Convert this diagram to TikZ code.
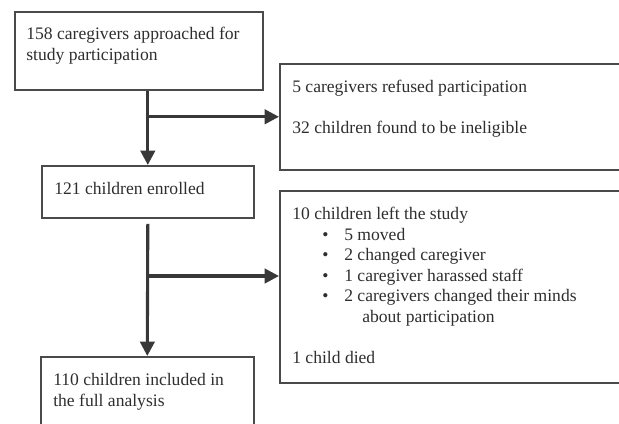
\documentclass[tikz,border=0pt]{standalone}
\usepackage{fontspec}
\setmainfont{Liberation Serif}
\usetikzlibrary{arrows.meta}

\definecolor{inkgray}{HTML}{2E2E2E}
\definecolor{framegray}{HTML}{4A4A4A}
\definecolor{flowgray}{HTML}{383838}

\tikzset{
  box/.style={draw=framegray, line width=1.1pt, inner sep=0pt, anchor=north west},
  label/.style={anchor=north west, inner sep=0pt, align=left, text=inkgray,
    font=\fontsize{12.5}{14.6}\selectfont},
  flow/.style={draw=flowgray, line width=2.2pt,
    -{Triangle[length=0.36cm,width=0.36cm]}},
}

\begin{document}
\begin{tikzpicture}[x=0.025cm, y=-0.025cm]
  \useasboundingbox (0,0) rectangle (619,423);
  \clip (0,0) rectangle (619,423);

  % boxes
  \node[box, minimum width=6.2cm, minimum height=1.95cm] (approach) at (14,11) {};
  \node[box, minimum width=9cm, minimum height=2.65cm] (excluded) at (279,63) {};
  \node[box, minimum width=5.3cm, minimum height=1.3cm] (enrolled) at (41,165) {};
  \node[box, minimum width=9cm, minimum height=4.8cm] (leftstudy) at (279,190) {};
  \node[box, minimum width=5.325cm, minimum height=2.5cm] (analysis) at (40,356) {};

  % texts
  \node[label] (t1) at (26,27) {158 caregivers approached for\\study participation};
  \node[label] (t2) at (292,80) {5 caregivers refused participation\\[14.6pt]32 children found to be ineligible};
  \node[label] (t3) at (54,182) {121 children enrolled};
  \node[label] (t4) at (292,207) {10 children left the study\\
    \hspace*{0.75cm}\makebox[0.55cm][l]{\textbullet}5 moved\\
    \hspace*{0.75cm}\makebox[0.55cm][l]{\textbullet}2 changed caregiver\\
    \hspace*{0.75cm}\makebox[0.55cm][l]{\textbullet}1 caregiver harassed staff\\
    \hspace*{0.75cm}\makebox[0.55cm][l]{\textbullet}2 caregivers changed their minds\\
    \hspace*{1.75cm}about participation\\[14.6pt]
    1 child died};
  \node[label] (t5) at (53,373) {110 children included in\\the full analysis};

  % connectors
  \coordinate (split1) at (enrolled.north |- excluded.west);
  \coordinate (split2) at (enrolled.north |- 0,276);
  \draw[flow] (approach.south -| enrolled.north) -- (enrolled.north);
  \draw[flow] (split1) -- (excluded.west);
  \draw[flow] ([yshift=-0.13cm]enrolled.south) -- (analysis.north);
  \draw[flow] (split2) -- (split2 -| leftstudy.west);
\end{tikzpicture}
\end{document}
